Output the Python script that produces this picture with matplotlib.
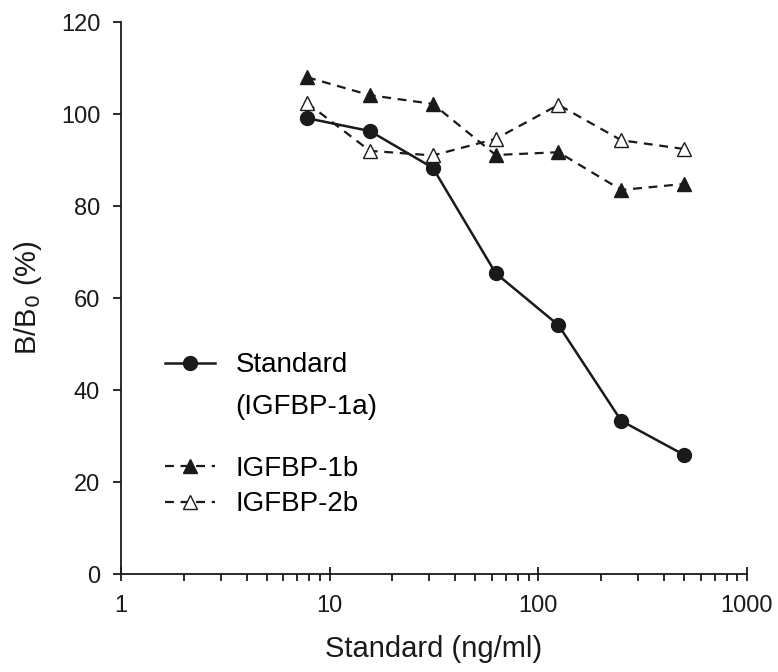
import numpy as np
import matplotlib.pyplot as plt
from matplotlib.lines import Line2D

plt.rcParams['font.family'] = ['Liberation Sans', 'DejaVu Sans']

conc = [7.8, 15.6, 31.25, 62.5, 125, 250, 500]
standard = [99.1, 96.3, 88.3, 65.4, 54.1, 33.3, 25.9]
igfbp_1b = [108.0, 104.1, 102.2, 91.1, 91.7, 83.5, 84.8]
igfbp_2b = [102.4, 92.0, 91.0, 94.6, 102.0, 94.3, 92.4]

fig = plt.figure(figsize=(7.78, 6.72), dpi=100)
ax = fig.add_axes([0.1555, 0.1458, 0.8045, 0.8214])

ink = '#1a1a1a'
l1, = ax.plot(conc, standard, '-o', color=ink, lw=1.8, ms=10)
l2, = ax.plot(conc, igfbp_1b, '--^', color=ink, lw=1.6, ms=10, dashes=(4, 3))
l3, = ax.plot(conc, igfbp_2b, '--^', color=ink, mfc='white', lw=1.6, ms=10,
              dashes=(4, 3))

ax.set_xscale('log')
ax.set_xlim(1, 1000)
ax.set_ylim(0, 120)
ax.set_yticks(np.arange(0, 121, 20))
ax.set_xticks([1, 10, 100, 1000])
ax.set_xticklabels(['1', '10', '100', '1000'])

for s in ['top', 'right']:
    ax.spines[s].set_visible(False)
for s in ['left', 'bottom']:
    ax.spines[s].set_linewidth(1.3)
    ax.spines[s].set_color(ink)

ax.tick_params(axis='both', which='major', labelsize=17, length=6, width=1.3,
               colors=ink, pad=9)
ax.tick_params(axis='x', which='major', direction='inout', length=10, pad=10)
ax.tick_params(axis='x', which='minor', direction='out', length=5, width=1.3,
               colors=ink)

ax.set_xlabel('Standard (ng/ml)', fontsize=21, labelpad=13, color=ink)
ax.set_ylabel('B/B$_0$ (%)', fontsize=21, labelpad=12, color=ink)

# legend: standard entry with its second line under it, then the two others
blank = Line2D([], [], linestyle='none')
leg1 = ax.legend([l1, blank], ['Standard', '(IGFBP-1a)'], loc='upper left',
                 bbox_to_anchor=(0.03, 0.447), frameon=False, fontsize=20,
                 handlelength=1.8, labelspacing=0.55, handletextpad=0.75)
ax.add_artist(leg1)
ax.legend([l2, l3], ['IGFBP-1b', 'IGFBP-2b'], loc='upper left',
          bbox_to_anchor=(0.03, 0.26), frameon=False, fontsize=20,
          handlelength=1.8, labelspacing=0.35, handletextpad=0.75)

fig.savefig('out.png', dpi=100)
